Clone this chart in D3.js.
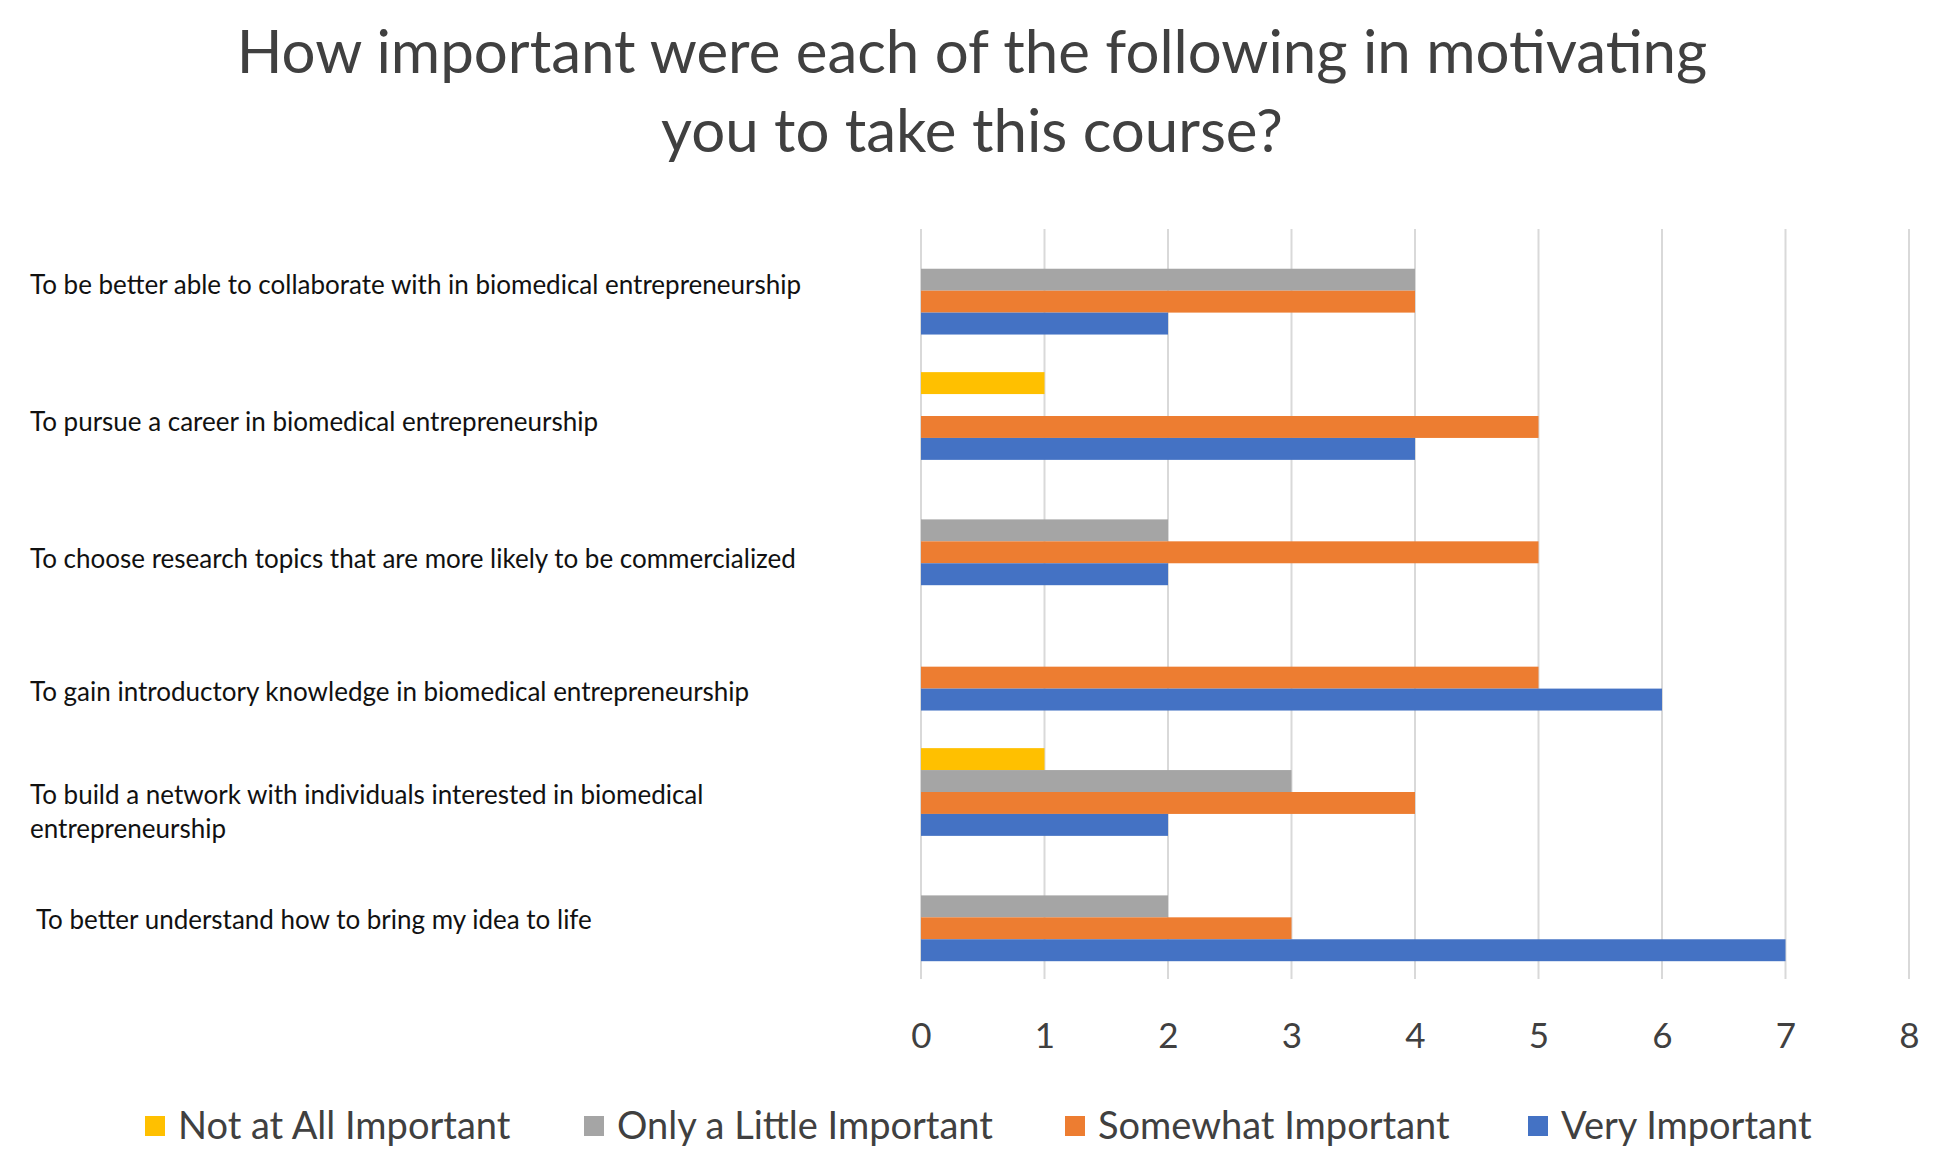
<!DOCTYPE html>
<html lang="en">
<head>
    <meta charset="UTF-8" />
    <title>Course motivation chart</title>
    <style>
        body { margin: 0; background: #fff; }
        svg text { font-family: Lato, "Open Sans", sans-serif; }
        .grid line { stroke: #d9d9d9; stroke-width: 2px; }
        .cat-label { fill: #111; font-size: 26px; }
        .legend text { fill: #404040; font-size: 38px; }
        .title { fill: #404040; font-size: 60px; }
    </style>
</head>
<body>
    <div id="chart"></div>

    <script src="https://d3js.org/d3.v7.min.js"></script>
    <script>
        // categories, top to bottom ("|" marks a line break)
        const categories = [
            'To be better able to collaborate with in biomedical entrepreneurship',
            'To pursue a career in biomedical entrepreneurship',
            'To choose research topics that are more likely to be commercialized',
            'To gain introductory knowledge in biomedical entrepreneurship',
            'To build a network with individuals interested in biomedical|entrepreneurship',
            ' To better understand how to bring my idea to life'
        ];

        const seriesNames = ['Not at All Important', 'Only a Little Important', 'Somewhat Important', 'Very Important'];
        const notAtAll     = [0, 1, 0, 0, 1, 0];
        const onlyALittle  = [4, 0, 2, 0, 3, 2];
        const somewhat     = [4, 5, 5, 5, 4, 3];
        const very         = [2, 4, 2, 6, 2, 7];
        const xTicks = [0, 1, 2, 3, 4, 5, 6, 7, 8];

        const titleLines = ['How important were each of the following in motivating', 'you to take this course?'];

        // layout
        const W = 1950, H = 1167;
        const colors = ['#FFC000', '#A5A5A5', '#ED7D31', '#4472C4'];
        const labelNudge = [-6, 6, 18, 25, 20, 3];
        const seriesValues = [notAtAll, onlyALittle, somewhat, very];

        const svg = d3.select('#chart').append('svg')
            .attr('width', W)
            .attr('height', H);

        const x = d3.scaleLinear().domain([0, 8]).range([921, 1909]);
        const y = d3.scaleBand().domain(d3.range(categories.length)).range([228, 980])
            .paddingInner(0.3).paddingOuter(0.15);
        const ySub = d3.scaleBand().domain(d3.range(seriesNames.length)).range([0, y.bandwidth()]);

        // title
        svg.append('g').selectAll('text')
            .data(titleLines)
            .enter().append('text')
            .attr('class', 'title')
            .attr('x', 972)
            .attr('y', (d, i) => 73 + i * 79)
            .attr('text-anchor', 'middle')
            .text(d => d);

        // vertical gridlines
        svg.append('g').attr('class', 'grid')
            .selectAll('line')
            .data(xTicks)
            .enter().append('line')
            .attr('x1', d => x(d)).attr('x2', d => x(d))
            .attr('y1', 229).attr('y2', 979);

        // bars
        const groups = svg.append('g').selectAll('g')
            .data(categories.map((c, i) => i))
            .enter().append('g')
            .attr('transform', i => `translate(0,${y(i)})`);

        groups.selectAll('rect')
            .data(i => seriesValues.map((vals, s) => ({ s, v: vals[i] })).filter(d => d.v > 0))
            .enter().append('rect')
            .attr('x', x(0))
            .attr('y', d => ySub(d.s))
            .attr('width', d => x(d.v) - x(0))
            .attr('height', ySub.bandwidth())
            .attr('fill', d => colors[d.s]);

        // x tick labels
        const xAxis = d3.axisBottom(x).tickValues(xTicks).tickSize(0).tickPadding(0);
        const axisG = svg.append('g')
            .attr('transform', 'translate(0,1048)')
            .call(xAxis);
        axisG.select('.domain').remove();
        axisG.selectAll('text')
            .attr('dy', 0)
            .attr('y', 0)
            .style('font-family', 'Lato, sans-serif')
            .style('font-size', '35px')
            .attr('fill', '#404040');

        // category labels
        const labels = svg.append('g').selectAll('text')
            .data(categories)
            .enter().append('text')
            .attr('class', 'cat-label')
            .attr('x', 30)
            .attr('y', (d, i) => y(i) + y.bandwidth() / 2 + labelNudge[i]);

        labels.each(function (d) {
            const parts = d.split('|');
            const t = d3.select(this);
            parts.forEach((p, j) => {
                t.append('tspan')
                    .attr('x', 30)
                    .attr('dy', j === 0 ? `${0.35 - (parts.length - 1) * 0.65}em` : '1.3em')
                    .style('white-space', 'pre')
                    .text(p);
            });
        });

        // legend
        const legendX = [145, 584, 1065, 1528];
        const legend = svg.append('g').attr('class', 'legend')
            .selectAll('g')
            .data(seriesNames)
            .enter().append('g')
            .attr('transform', (d, i) => `translate(${legendX[i]},1126)`);

        legend.append('rect')
            .attr('x', 0).attr('y', -10)
            .attr('width', 20).attr('height', 20)
            .attr('fill', (d, i) => colors[i]);

        legend.append('text')
            .attr('x', 33)
            .attr('dy', '0.35em')
            .text(d => d);
    </script>
</body>
</html>
